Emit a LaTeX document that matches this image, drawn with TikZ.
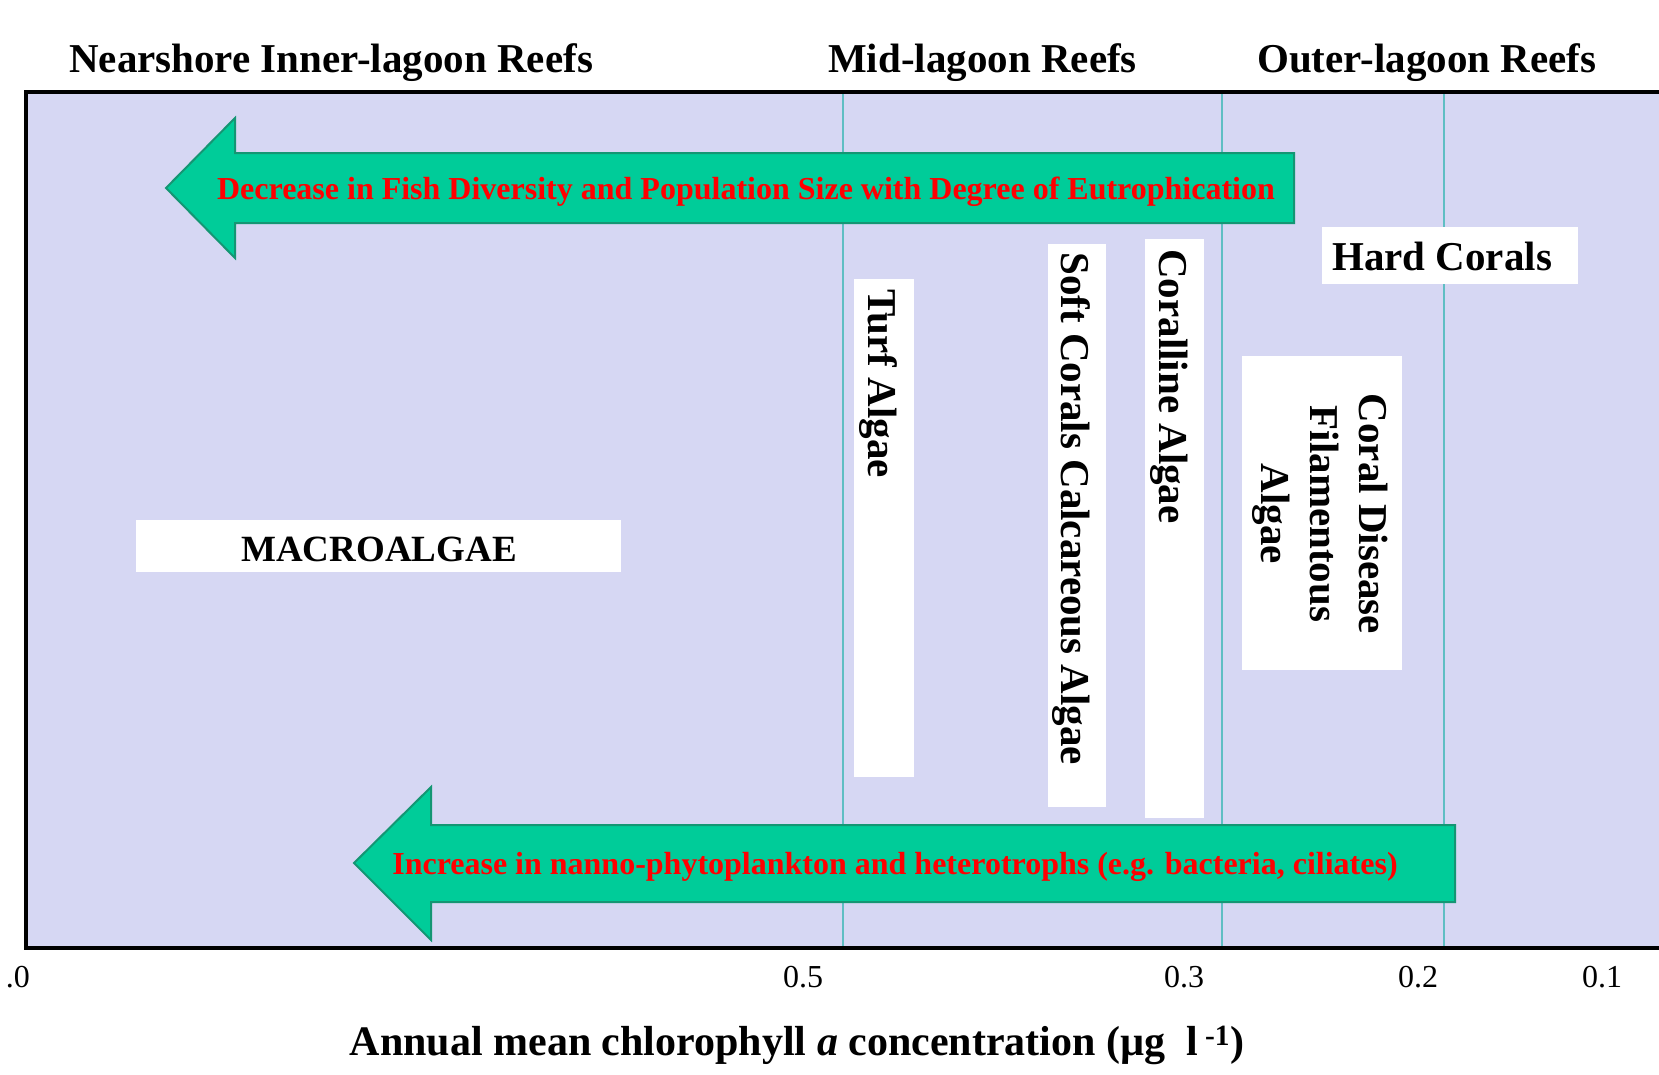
\documentclass[tikz,border=0pt]{standalone}
\usepackage{fontspec}
\setmainfont{Liberation Serif}
\definecolor{bgfill}{RGB}{214,215,243}
\definecolor{gridteal}{RGB}{95,190,195}
\definecolor{arrowfill}{RGB}{0,204,153}
\definecolor{arrowedge}{RGB}{20,150,115}
\begin{document}
\begin{tikzpicture}[x=1pt,y=-1pt,
  hdr/.style={font=\fontsize{41}{49}\selectfont\bfseries, inner sep=0pt},
  redtxt/.style={font=\fontsize{32}{38}\selectfont\bfseries, text=red, inner sep=0pt},
  vlab/.style={font=\fontsize{41}{49}\selectfont\bfseries, rotate=-90, inner sep=0pt},
  wbox/.style={fill=white, draw=none, inner sep=0pt},
  tick/.style={font=\fontsize{32}{38}\selectfont, inner sep=0pt},
  bigarrow/.style={fill=arrowfill, draw=arrowedge, line width=2pt, line join=miter},
  vline/.style={draw=gridteal, line width=2pt}
]
\useasboundingbox (0,0) rectangle (1659,1074);
\clip (0,0) rectangle (1659,1074);

% panel
\fill[bgfill] (26,92) rectangle (1700,948);

% zone boundaries
\coordinate (l1t) at (843,92);  \coordinate (l1b) at (843,948);
\coordinate (l2t) at (1222,92); \coordinate (l2b) at (1222,948);
\coordinate (l3t) at (1444,92); \coordinate (l3b) at (1444,948);
\draw[vline] (l1t) -- (l1b);
\draw[vline] (l2t) -- (l2b);
\draw[vline] (l3t) -- (l3b);

% headers
\node[hdr, anchor=base west] (h1) at (69,72) {Nearshore Inner-lagoon Reefs};
\node[hdr, anchor=base west] (h2) at (828,72) {Mid-lagoon Reefs};
\node[hdr, anchor=base west] (h3) at (1257,72) {Outer-lagoon Reefs};

% white label boxes
\node[wbox, minimum width=485pt, minimum height=52pt] (macrobox) at (378.5,546) {};
\node[hdr, font=\fontsize{37}{44}\selectfont\bfseries, anchor=base] (macro) at (379,561) {MACROALGAE};

\node[wbox, minimum width=60pt, minimum height=498pt] (turfbox) at (884,528) {};
\node[vlab, anchor=base west] (turf) at (868,289) {Turf Algae};

\node[wbox, minimum width=58pt, minimum height=563pt] (softbox) at (1077,525.5) {};
\node[vlab, anchor=base west] (soft) at (1061,252) {Soft Corals Calcareous Algae};

\node[wbox, minimum width=59pt, minimum height=579pt] (corallinebox) at (1174.5,528.5) {};
\node[vlab, anchor=base west] (coralline) at (1159,249) {Coralline Algae};

\node[wbox, minimum width=160pt, minimum height=314pt] (diseasebox) at (1322,513) {};
\node[vlab, align=center, anchor=center] (disease) at (1320,514) {Coral Disease\\Filamentous\\Algae};

\node[wbox, minimum width=256pt, minimum height=57pt] (hardbox) at (1450,255.5) {};
\node[hdr, anchor=base west] (hard) at (1332,270) {Hard Corals};

% arrows
\draw[bigarrow] (166,188) -- (235,118) -- (235,153) -- (1294,153) -- (1294,223) -- (235,223) -- (235,258) -- cycle;
\node[redtxt, anchor=base] (fish) at (746,199) {Decrease in Fish Diversity and Population Size with Degree of Eutrophication};

\draw[bigarrow] (354,863) -- (431,787) -- (431,825) -- (1455,825) -- (1455,902) -- (431,902) -- (431,940) -- cycle;
\node[redtxt, anchor=base] (plankton) at (895,874) {Increase in nanno-phytoplankton and heterotrophs (e.g. bacteria, ciliates)};

% panel border
\draw[line width=4pt, line join=miter] (1700,92) -- (26,92) -- (26,948) -- (1700,948);

% axis labels
\node[tick, anchor=base east] (t10) at (30,987) {.0};
\node[tick, anchor=base] (t05) at (803,987) {0.5};
\node[tick, anchor=base] (t03) at (1184,987) {0.3};
\node[tick, anchor=base] (t02) at (1418,987) {0.2};
\node[tick, anchor=base] (t01) at (1602,987) {0.1};

\node[hdr, font=\fontsize{42}{50}\selectfont\bfseries, anchor=base] (axtitle) at (797,1055) {Annual mean chlorophyll \textit{a} concentration (µg\ \ l\,\textsuperscript{-1})};
\end{tikzpicture}
\end{document}
